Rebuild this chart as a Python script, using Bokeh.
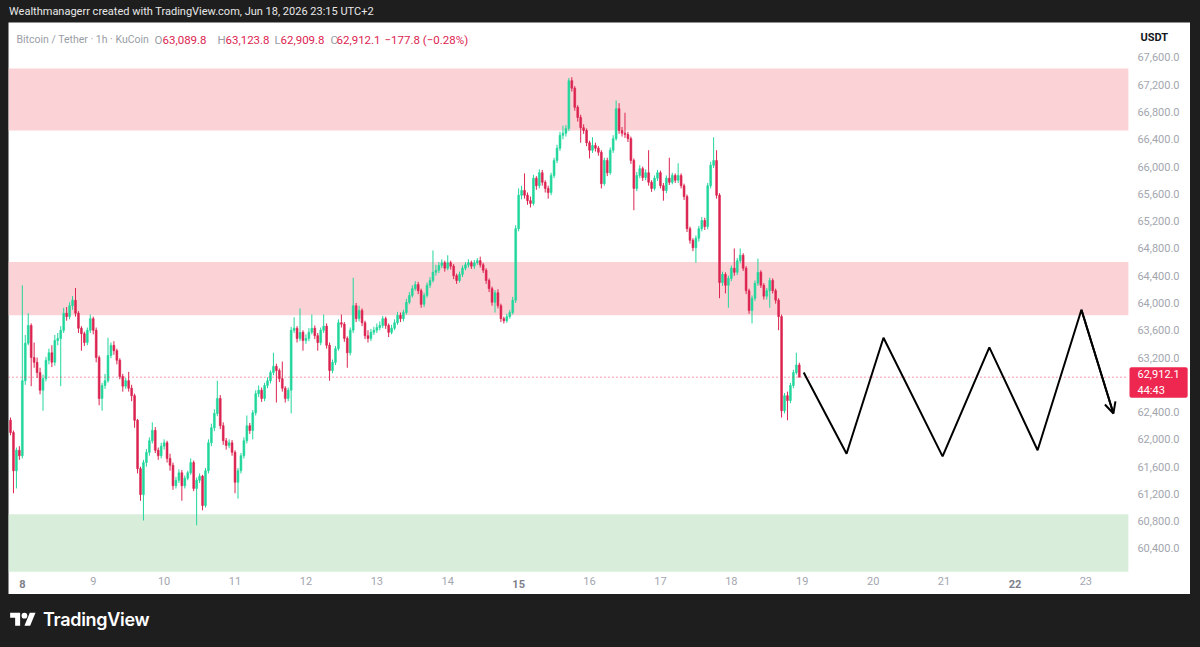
import pandas as pd
from bokeh.plotting import figure
from bokeh.models import (BoxAnnotation, Label, Arrow, OpenHead, FixedTicker,
                          NumeralTickFormatter, Range1d, Div, Spacer, ColumnDataSource)
from bokeh.layouts import column, row
from bokeh.embed import file_html
from bokeh.resources import INLINE

# ---------------- data ----------------
START = "2026-06-07 20:00"          # first hourly candle
FIRST_OPEN = 62280

closes = [
    62100, 61540, 61840, 61760,
    62860, 63410, 63670, 63200, 63130, 62980, 62720, 62890, 63160, 63270, 63130, 63450,
    63480, 63600, 63850, 63800, 63960, 64040, 63850, 63630, 63550, 63420, 63600, 63770,
    63600, 63200, 62600, 62790, 62860, 63230, 63380, 63300, 63160, 62920, 62780, 62860,
    62750, 62640, 62280, 61570, 61190, 61660, 61810, 61980, 62130, 61840, 61760, 61900,
    61950, 61720, 61620, 61320, 61400, 61510, 61320, 61430, 61510, 61660, 61280, 61400,
    61460, 61030, 61540, 61950, 62170, 62380, 62600, 62200, 61980, 61910, 61950, 61810,
    61370, 61540, 61760, 61980, 62200, 62130, 62390, 62670, 62720, 62600, 62790, 62860,
    62980, 63070, 63010, 62890, 62750, 62600, 62720, 63600, 63630, 63480, 63570, 63450,
    63480, 63570, 63630, 63520, 63420, 63600, 63660, 63380, 63010, 63130, 63330, 63710,
    63690, 63480, 63270, 63600, 63960, 63770, 63890, 63710, 63520, 63480, 63570, 63600,
    63640, 63670, 63770, 63670, 63570, 63630, 63710, 63820, 63770, 63860, 64010, 64110,
    64210, 64270, 64180, 63980, 64110, 64260, 64330, 64450, 64480, 64550, 64590, 64510,
    64590, 64540, 64400, 64330, 64420, 64510, 64560, 64590, 64540, 64590, 64620, 64560,
    64480, 64330, 64210, 64010, 64150, 63960, 63770, 63740, 63800, 63860, 64040, 65090,
    65580, 65650, 65580, 65500, 65460, 65830, 65720, 65910, 65770, 65680, 65620, 65870,
    66090, 66270, 66460, 66490, 66560, 67260, 67150, 66870, 66720, 66570, 66530, 66350,
    66240, 66310, 66270, 66210, 65750, 66090, 65910, 66240, 66410, 66850, 66530, 66490,
    66470, 66410, 66090, 65680, 65870, 65970, 65840, 65910, 65770, 65680, 65830, 65910,
    65720, 65650, 65830, 65770, 65870, 65800, 65870, 65720, 65560, 65090, 64920, 64810,
    64950, 65090, 65210, 65120, 65720, 66020, 66090, 65580, 64300, 64420, 64260, 64360,
    64510, 64450, 64620, 64700, 64510, 64180, 63890, 64070, 64290, 64450, 64260, 64100,
    64180, 64330, 64180, 64040, 63800, 62420, 62640, 62570, 62790, 62980, 63089.8, 62912.1,
]

highs = [
    62320, 62130, 61880, 61900,
    64260, 63530, 63850, 63700, 63420, 63200, 63050, 62950, 63210, 63330, 63380, 63530,
    63560, 63660, 63930, 63940, 64010, 64100, 64220, 63880, 63660, 63580, 63640, 63830,
    63800, 63640, 63230, 62830, 62960, 63490, 63420, 63440, 63330, 63190, 62960, 62900,
    62990, 62800, 62670, 62300, 61600, 61700, 61860, 62030, 62250, 62180, 61880, 61950,
    62000, 61980, 61790, 61660, 61450, 61560, 61550, 61470, 61540, 61720, 61690, 61440,
    61500, 61480, 61580, 62000, 62230, 62440, 62860, 62650, 62250, 62020, 62000, 61990,
    61840, 61580, 61800, 62030, 62350, 62240, 62430, 62720, 62790, 62760, 62830, 62910,
    63010, 63270, 63110, 63040, 63140, 62780, 62760, 63650, 63790, 63660, 63920, 63600,
    63540, 63630, 63830, 63670, 63560, 63640, 63830, 63700, 63420, 63170, 63370, 63760,
    63830, 63720, 63510, 63640, 64370, 64000, 63960, 63920, 63740, 63600, 63620, 63650,
    63700, 63730, 63810, 63800, 63700, 63680, 63760, 63870, 63860, 63900, 64060, 64160,
    64260, 64320, 64310, 64210, 64150, 64300, 64380, 64770, 64560, 64600, 64640, 64620,
    64700, 64620, 64570, 64430, 64460, 64550, 64600, 64640, 64620, 64630, 64660, 64680,
    64590, 64510, 64360, 64240, 64190, 64200, 63990, 63800, 63840, 63900, 64090, 65140,
    65680, 65720, 65900, 65620, 65560, 65880, 65860, 65960, 65950, 65800, 65720, 65910,
    66130, 66320, 66510, 66600, 66610, 67300, 67310, 67180, 66900, 66760, 66620, 66560,
    66380, 66430, 66350, 66300, 66240, 66130, 66130, 66280, 66460, 66970, 66930, 66580,
    66790, 66510, 66440, 66120, 65920, 66020, 66000, 65960, 66240, 65800, 65870, 65950,
    65940, 65760, 65870, 66130, 65910, 65900, 66050, 65900, 65750, 65590, 65120, 64950,
    64990, 65130, 65260, 65250, 65760, 66070, 66430, 66240, 65610, 64460, 64450, 64400,
    64550, 64800, 64660, 64800, 64730, 64540, 64210, 64110, 64330, 64650, 64480, 64290,
    64220, 64370, 64360, 64210, 64070, 63830, 62680, 62700, 62830, 63020, 63270, 63123.8,
]

lows = [
    62060, 61210, 61280, 61700,
    61720, 62800, 63380, 62780, 63050, 62900, 62660, 62420, 62850, 63100, 63060, 63080,
    63380, 62780, 63560, 63740, 63760, 63900, 63800, 63560, 63300, 63370, 63380, 63560,
    63540, 63130, 62500, 62420, 62740, 62830, 63190, 63240, 63100, 62880, 62700, 62740,
    62700, 62560, 62170, 61500, 61100, 60810, 61600, 61760, 61940, 61800, 61700, 61720,
    61850, 61660, 61540, 61260, 61280, 61360, 61100, 61280, 61400, 61480, 61240, 60740,
    61360, 60960, 61000, 61500, 61900, 62120, 62340, 62150, 61920, 61850, 61870, 61760,
    61210, 61130, 61500, 61720, 61940, 62080, 62000, 62350, 62620, 62550, 62560, 62750,
    62820, 62940, 62540, 62840, 62700, 62540, 62560, 62380, 63560, 63420, 63440, 63300,
    63400, 63440, 63540, 63470, 63300, 63380, 63560, 63330, 62860, 62970, 63090, 63300,
    63640, 63430, 63050, 63230, 63560, 63720, 63730, 63660, 63470, 63420, 63440, 63530,
    63560, 63600, 63630, 63620, 63500, 63540, 63600, 63680, 63720, 63730, 63830, 63980,
    64080, 64180, 64130, 63930, 63940, 64080, 64220, 64300, 64400, 64440, 64510, 64460,
    64480, 64490, 64350, 64280, 64300, 64380, 64480, 64520, 64500, 64500, 64560, 64520,
    64440, 64280, 64160, 63960, 63860, 63920, 63720, 63700, 63710, 63770, 63830, 64000,
    65050, 65520, 65530, 65440, 65400, 65430, 65660, 65680, 65720, 65620, 65530, 65580,
    65830, 66050, 66230, 66400, 66440, 66520, 67100, 66820, 66660, 66350, 66480, 66300,
    66120, 66200, 66220, 66160, 65680, 65720, 65860, 65880, 66200, 66380, 66480, 66440,
    66420, 66360, 66040, 65360, 65640, 65830, 65790, 65800, 65720, 65630, 65650, 65790,
    65680, 65500, 65610, 65730, 65740, 65760, 65760, 65680, 65510, 65040, 64870, 64760,
    64590, 64900, 65050, 65070, 65080, 65680, 65980, 65530, 64070, 64250, 64140, 63930,
    64320, 64400, 64410, 64580, 64470, 64130, 63840, 63700, 64030, 64250, 64220, 64050,
    64050, 63930, 64140, 63990, 63600, 62320, 62380, 62280, 62530, 62750, 62950, 62909.8,
]

# supply / demand zones (bottom, top)
zone_bottoms = [66530, 63820, 60060]
zone_tops = [67440, 64600, 60900]
zone_colors = ["#fbd2d6", "#fbd2d6", "#d8eedb"]

# projected path (hand-drawn zig-zag)
zz_times = ["2026-06-19 00:30", "2026-06-19 15:00", "2026-06-20 03:30", "2026-06-20 23:30",
            "2026-06-21 15:20", "2026-06-22 07:40", "2026-06-22 22:30", "2026-06-23 09:20"]
zz_prices = [62980, 61790, 63490, 61750, 63350, 61840, 63900, 62380]

last_price = 62912.1
day_ticks = [8, 9, 10, 11, 12, 13, 14, 15, 16, 17, 18, 19, 20, 21, 22, 23]
bold_days = [8, 15, 22]
price_ticks = [60400, 60800, 61200, 61600, 62000, 62400, 62800, 63200, 63600,
               64000, 64400, 64800, 65200, 65600, 66000, 66400, 66800, 67200, 67600]

# ---------------- build ----------------
BASE = pd.Timestamp("2026-06-01")


def to_day(ts):
    return (pd.to_datetime(ts) - BASE) / pd.Timedelta(days=1) + 1.0


times = pd.date_range(START, periods=len(closes), freq="h")
xs = [to_day(t) for t in times]
opens = [FIRST_OPEN] + closes[:-1]
UP, DOWN = "#22d69c", "#dc2450"
cols = [UP if c >= o else DOWN for o, c in zip(opens, closes)]
src = ColumnDataSource(dict(
    x=xs, o=opens, c=closes, h=highs, l=lows, col=cols,
    top=[max(o, c) for o, c in zip(opens, closes)],
    bot=[min(o, c) for o, c in zip(opens, closes)],
))

FONT = "Roboto"
CHART_RIGHT = 23.60      # right edge of the candle pane (price scale starts here)
CHART_BOTTOM = 60048     # bottom edge of the candle pane (time scale starts here)

p = figure(width=1182, height=572, x_range=Range1d(7.805, 24.476),
           y_range=Range1d(59725, 68113), output_backend="svg", toolbar_location=None,
           y_axis_location="right", min_border_left=0, min_border_top=0,
           min_border_right=0, min_border_bottom=0,
           background_fill_color="white", border_fill_color="white")
p.outline_line_color = None
p.xgrid.visible = False
p.ygrid.visible = False

for b, t, fc in zip(zone_bottoms, zone_tops, zone_colors):
    p.add_layout(BoxAnnotation(bottom=b, top=t, right=CHART_RIGHT, fill_color=fc,
                               fill_alpha=1.0, line_color=None, level="underlay"))

p.segment(x0="x", y0="l", x1="x", y1="h", source=src, line_color="col", line_width=1)
p.vbar(x="x", width=0.62 / 24, top="top", bottom="bot", source=src,
       fill_color="col", line_color="col", line_width=0.6)

p.segment(x0=[p.x_range.start], y0=[last_price], x1=[CHART_RIGHT], y1=[last_price],
          line_color="#ee2750", line_dash="1 3", line_width=1, line_alpha=0.9)

zx = [to_day(t) for t in zz_times]
p.line(zx, zz_prices, line_color="black", line_width=2)
p.add_layout(Arrow(end=OpenHead(size=11, line_width=2, line_color="black"),
                   x_start=zx[-2], y_start=zz_prices[-2], x_end=zx[-1], y_end=zz_prices[-1],
                   line_width=2, line_color="black"))

# axes (pinned to the pane edges)
ya = p.yaxis[0]
ya.fixed_location = CHART_RIGHT
ya.ticker = FixedTicker(ticks=price_ticks)
ya.formatter = NumeralTickFormatter(format="0,0.0")
ya.major_label_overrides = {62800: ""}
ya.axis_line_color = None
ya.major_tick_line_color = None
ya.minor_tick_line_color = None
ya.major_tick_out = 0
ya.major_label_standoff = 9
ya.major_label_text_font = FONT
ya.major_label_text_font_size = "11px"
ya.major_label_text_color = "#a3a6af"

xa = p.xaxis[0]
xa.fixed_location = CHART_BOTTOM
xa.ticker = FixedTicker(ticks=day_ticks)
xa.major_label_overrides = {d: ("" if d in bold_days else str(d)) for d in day_ticks}
xa.axis_line_color = None
xa.major_tick_line_color = None
xa.minor_tick_line_color = None
xa.major_tick_out = 0
xa.major_label_standoff = 5
xa.major_label_text_font = FONT
xa.major_label_text_font_size = "11px"
xa.major_label_text_color = "#a3a6af"

for d in bold_days:
    p.add_layout(Label(x=d, y=11, x_units="data", y_units="screen", text=str(d),
                       text_align="center", text_baseline="middle", text_font=FONT,
                       text_font_size="11px", text_font_style="bold", text_color="#7d808a"))

# legend line
GREY, RED = "#9a9da6", "#dc2450"
legend_parts = [
    ("Bitcoin / Tether · 1h · KuCoin", 8, GREY, "10.5px"),
    ("O", 146, GREY, "11.5px"), (f"{opens[-1]:,.1f}", 154, RED, "11.5px"),
    ("H", 209, GREY, "11.5px"), (f"{highs[-1]:,.1f}", 217, RED, "11.5px"),
    ("L", 266, GREY, "11.5px"), (f"{lows[-1]:,.1f}", 272, RED, "11.5px"),
    ("C", 322, GREY, "11.5px"), (f"{closes[-1]:,.1f}", 328, RED, "11.5px"),
    ("−177.8 (−0.28%)", 376, RED, "11.5px"),
]
for txt, sx, colr, fs in legend_parts:
    p.add_layout(Label(x=sx, y=555, x_units="screen", y_units="screen", text=txt,
                       text_align="left", text_baseline="middle", text_font=FONT,
                       text_font_size=fs, text_color=colr))

p.add_layout(Label(x=1132, y=557, x_units="screen", y_units="screen", text="USDT",
                   text_align="left", text_baseline="middle", text_font=FONT,
                   text_font_size="11px", text_font_style="bold", text_color="#131722"))

p.add_layout(Label(x=1121, y=212, x_units="screen", y_units="screen",
                   text=f"{last_price:,.1f}\n44:43", text_align="left",
                   text_baseline="middle", text_font=FONT, text_font_size="11px",
                   text_color="white", background_fill_color="#ee2750",
                   background_fill_alpha=1.0, padding=(8, 1), border_radius=2))

header = Div(text=('<div style="font-family:Roboto,sans-serif;font-size:11px;color:#e8e8e8;'
                   'padding-left:9px;line-height:24px;white-space:nowrap;">'
                   'Wealthmanagerr created with TradingView.com, Jun 18, 2026 23:15 UTC+2</div>'),
             width=1200, height=22, margin=0)

logo_svg = ('<svg width="26" height="20" viewBox="0 0 36 28" style="margin-right:7px;">'
            '<path d="M14 22H7V11H0V4h14v18z" fill="#ffffff"/>'
            '<path d="M28 22h-8l7.5-18h8L28 22z" fill="#ffffff"/>'
            '<circle cx="20" cy="8" r="4" fill="#ffffff"/></svg>')
footer = Div(text=('<div style="display:flex;align-items:center;height:53px;padding-left:10px;'
                   'box-sizing:border-box;padding-bottom:2px;">' + logo_svg +
                   '<span style="font-family:Inter,sans-serif;font-size:18px;font-weight:600;'
                   'color:#ffffff;letter-spacing:-0.3px;">TradingView</span></div>'),
             width=1200, height=53, margin=0)

mid = row(Spacer(width=8, height=572, margin=0), p, Spacer(width=10, height=572, margin=0),
          margin=0, spacing=0)
layout = column(header, mid, footer, margin=0, spacing=0,
                styles={"background-color": "#1e1e1e"})

open("out.html", "w").write(file_html(layout, INLINE))
